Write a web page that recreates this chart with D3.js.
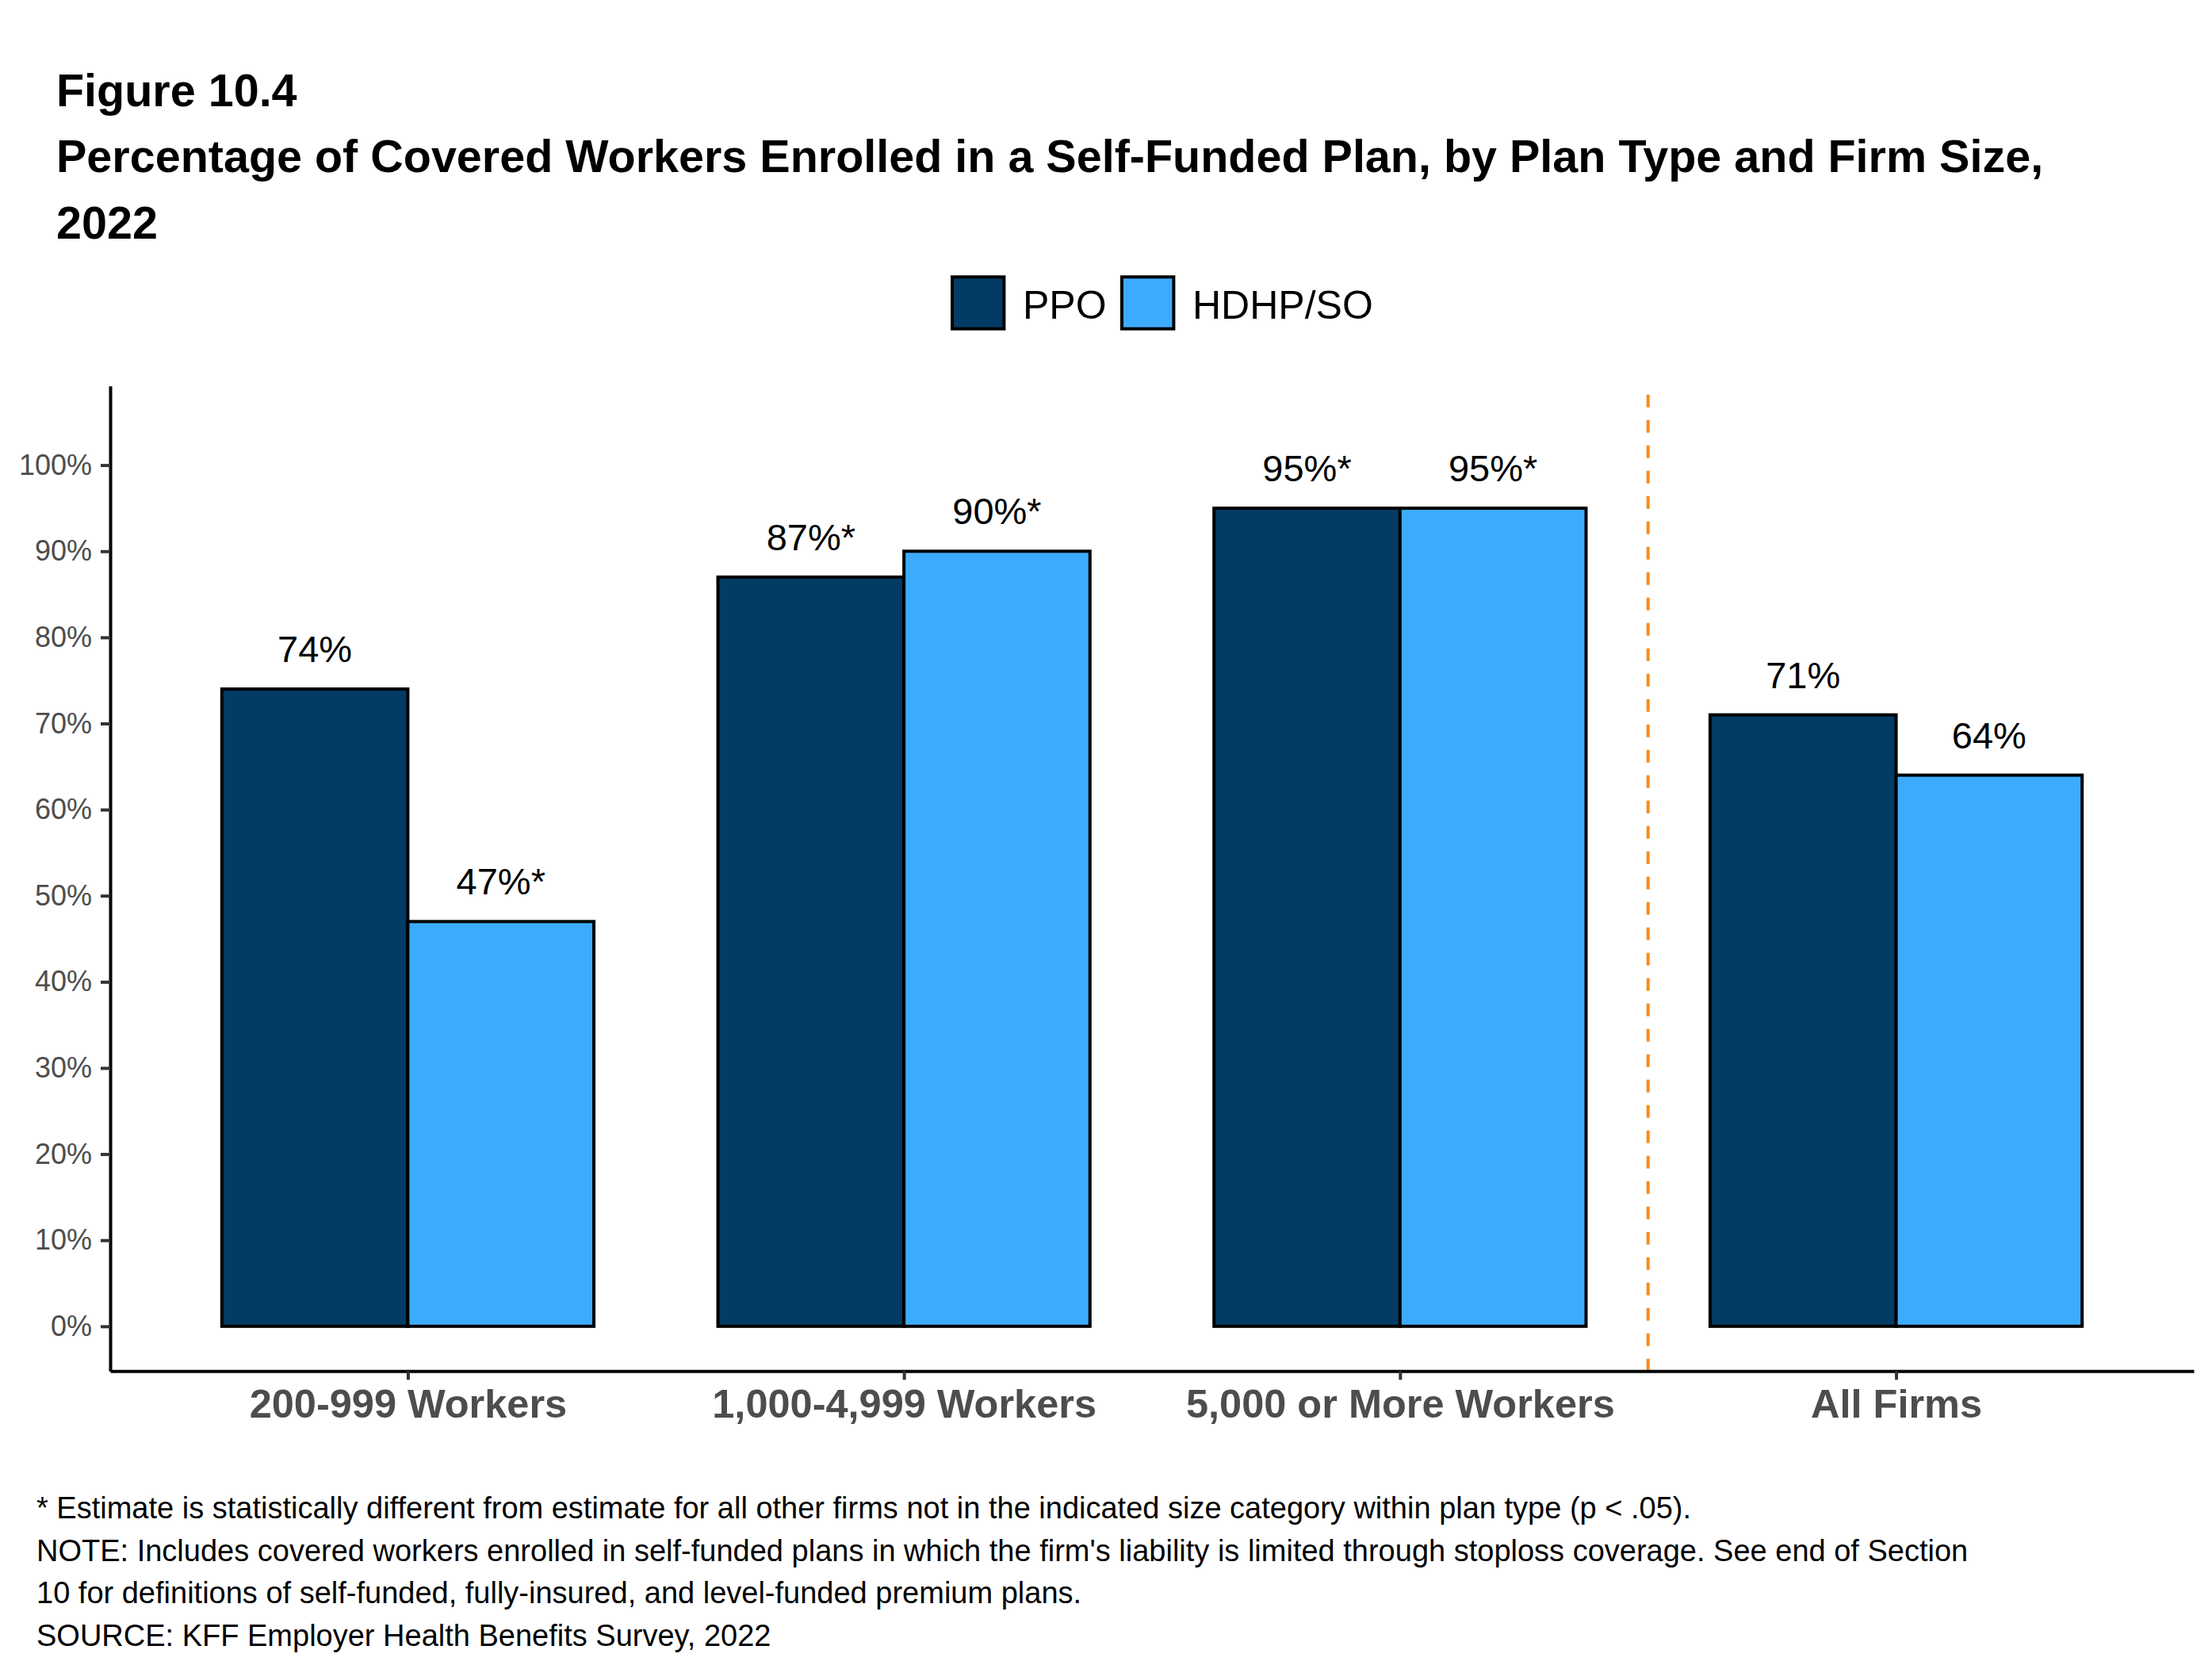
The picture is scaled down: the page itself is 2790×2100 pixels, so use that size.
<!DOCTYPE html>
<html>
<head>
<meta charset="utf-8">
<script src="https://cdn.jsdelivr.net/npm/d3@7"></script>
<style>
  body { margin: 0; background: #fff; }
  svg { display: block; font-family: 'Liberation Sans', Arial, sans-serif; }
</style>
</head>
<body>
<svg id="chart"></svg>
<script>
// Data
var categories = ['200-999 Workers', '1,000-4,999 Workers', '5,000 or More Workers', 'All Firms']
var seriesNames = ['PPO', 'HDHP/SO']
var ppoValues = [74, 87, 95, 71]
var hdhpValues = [47, 90, 95, 64]
var ppoLabels = ['74%', '87%*', '95%*', '71%']
var hdhpLabels = ['47%*', '90%*', '95%*', '64%']
var yTicks = [0, 10, 20, 30, 40, 50, 60, 70, 80, 90, 100]
var titleLines = [
  'Figure 10.4',
  'Percentage of Covered Workers Enrolled in a Self-Funded Plan, by Plan Type and Firm Size,',
  '2022'
]
var noteLines = [
  '* Estimate is statistically different from estimate for all other firms not in the indicated size category within plan type (p < .05).',
  'NOTE: Includes covered workers enrolled in self-funded plans in which the firm\'s liability is limited through stoploss coverage. See end of Section',
  '10 for definitions of self-funded, fully-insured, and level-funded premium plans.',
  'SOURCE: KFF Employer Health Benefits Survey, 2022'
]

// Dimensions
var width = 2790
var height = 2100
var plot = { left: 139, right: 2767, top: 486.7, bottom: 1729.3 }
var colors = ['#023B63', '#3DABFD']

var svg = d3.select('#chart').attr('width', width).attr('height', height)

// Echelles
var xScale = d3.scalePoint()
  .domain(categories)
  .range([plot.left, plot.right])
  .padding(0.6)

var yScale = d3.scaleLinear()
  .domain([-5.2, 109.2])
  .range([plot.bottom, plot.top])

var colorScale = d3.scaleOrdinal().domain(seriesNames).range(colors)

// Titre
svg.append('g').selectAll('text')
  .data(titleLines)
  .enter()
  .append('text')
  .attr('x', 71)
  .attr('y', function (d, i) { return 134 + i * 83.3 })
  .attr('font-size', 57.5)
  .attr('font-weight', 'bold')
  .attr('fill', '#000')
  .text(function (d) { return d })

// Legende
var legendX = [1199, 1413]
var legend = svg.append('g').attr('class', 'legend')
seriesNames.forEach(function (name, i) {
  legend.append('rect')
    .attr('x', legendX[i] + 2)
    .attr('y', 349.3)
    .attr('width', 65.4)
    .attr('height', 65.4)
    .attr('fill', colorScale(name))
    .attr('stroke', '#000')
    .attr('stroke-width', 4)
  legend.append('text')
    .attr('x', legendX[i] + 91)
    .attr('y', 401.7)
    .attr('font-size', 50)
    .attr('fill', '#000')
    .text(name)
})

// Barres
var bw = xScale.step() * 0.375
var rows = categories.map(function (c, i) {
  return [
    { cat: c, series: 'PPO', value: ppoValues[i], label: ppoLabels[i], offset: -bw },
    { cat: c, series: 'HDHP/SO', value: hdhpValues[i], label: hdhpLabels[i], offset: 0 }
  ]
})
var flat = d3.merge(rows)

svg.append('g').selectAll('rect')
  .data(flat)
  .enter()
  .append('rect')
  .attr('x', function (d) { return xScale(d.cat) + d.offset })
  .attr('y', function (d) { return yScale(d.value) })
  .attr('width', bw)
  .attr('height', function (d) { return yScale(0) - yScale(d.value) })
  .attr('fill', function (d) { return colorScale(d.series) })
  .attr('stroke', '#000')
  .attr('stroke-width', 4)

svg.append('g').selectAll('text')
  .data(flat)
  .enter()
  .append('text')
  .attr('x', function (d) { return xScale(d.cat) + d.offset + bw / 2 })
  .attr('y', function (d) { return yScale(d.value) - 34 })
  .attr('text-anchor', 'middle')
  .attr('font-size', 47)
  .attr('fill', '#000')
  .text(function (d) { return d.label })

// Ligne pointillee entre les tailles et l'ensemble
var sepX = (xScale(categories[2]) + xScale(categories[3])) / 2
svg.append('line')
  .attr('x1', sepX)
  .attr('x2', sepX)
  .attr('y1', 497.7)
  .attr('y2', plot.bottom)
  .attr('stroke', '#FA8B1A')
  .attr('stroke-width', 4)
  .attr('stroke-dasharray', '16,16')

// Axe des ordonnees
var yAxis = svg.append('g')
  .attr('transform', 'translate(' + plot.left + ',0)')
  .call(d3.axisLeft(yScale)
    .tickValues(yTicks)
    .tickSize(12)
    .tickSizeOuter(0)
    .tickPadding(11)
    .tickFormat(function (d) { return d + '%' }))
yAxis.select('.domain').attr('stroke', '#000').attr('stroke-width', 4)
yAxis.selectAll('.tick line').attr('stroke', '#333').attr('stroke-width', 4)
yAxis.selectAll('.tick text')
  .attr('font-family', null)
  .attr('font-size', 36)
  .attr('fill', '#4D4D4D')

// Axe des abscisses
var xAxis = svg.append('g')
  .attr('transform', 'translate(0,' + plot.bottom + ')')
  .call(d3.axisBottom(xScale).tickSize(11).tickSizeOuter(0))
xAxis.select('.domain').attr('stroke', '#000').attr('stroke-width', 4)
xAxis.selectAll('.tick line').attr('stroke', '#333').attr('stroke-width', 4)
xAxis.selectAll('.tick text')
  .attr('font-family', null)
  .attr('font-size', 50.5)
  .attr('font-weight', 'bold')
  .attr('fill', '#4D4D4D')
  .attr('y', 58.7)
  .attr('dy', null)

// Notes
svg.append('g').selectAll('text')
  .data(noteLines)
  .enter()
  .append('text')
  .attr('x', 46)
  .attr('y', function (d, i) { return 1915 + i * 53.5 })
  .attr('font-size', 38)
  .attr('fill', '#000')
  .text(function (d) { return d })
</script>
</body>
</html>
